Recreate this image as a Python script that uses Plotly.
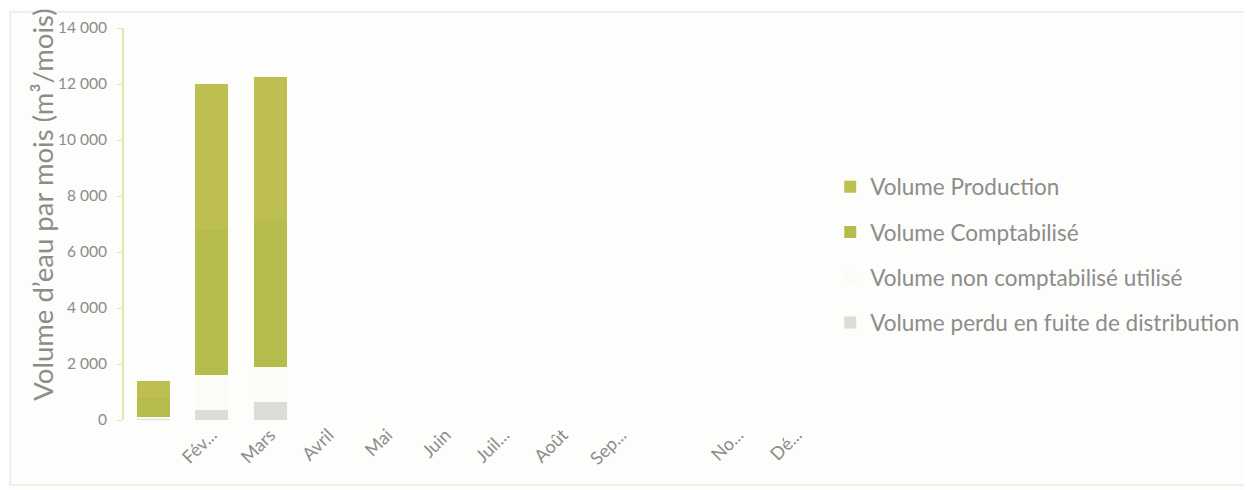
import plotly.graph_objects as go

months = ["Janvier", "Février", "Mars", "Avril", "Mai", "Juin", "Juillet",
          "Août", "Septembre", "Octobre", "Novembre", "Décembre"]
tick_labels = ["", "Fév...", "Mars", "Avril", "Mai", "Juin", "Juil...",
               "Août", "Sep...", "", "No...", "Dé..."]

# stacked from bottom to top
vol_perdu = [60, 350, 650, 0, 0, 0, 0, 0, 0, 0, 0, 0]
vol_non_compt = [40, 1250, 1250, 0, 0, 0, 0, 0, 0, 0, 0, 0]
vol_compt = [700, 5200, 5200, 0, 0, 0, 0, 0, 0, 0, 0, 0]
vol_production = [600, 5200, 5150, 0, 0, 0, 0, 0, 0, 0, 0, 0]

series = [
    ("Volume perdu en fuite de distribution", vol_perdu, "#dcdcd8", 4),
    ("Volume non comptabilisé utilisé", vol_non_compt, "#fbfbf8", 3),
    ("Volume Comptabilisé", vol_compt, "#b6bc4c", 2),
    ("Volume Production", vol_production, "#bdc050", 1),
]

grey = "#8c8c8c"
fig = go.Figure()
for name, vals, col, rank in series:
    fig.add_trace(go.Bar(
        x=months, y=vals, name=name, legendgroup=name, legendrank=rank,
        marker=dict(color=col, line=dict(width=0)),
    ))

fig.update_layout(
    width=1252, height=490,
    barmode="stack", bargap=0.43,
    paper_bgcolor="#fdfdfb", plot_bgcolor="#fdfdfb",
    separators=", ",
    font=dict(family="Lato, Open Sans, sans-serif", color=grey, size=15),
    margin=dict(l=116, r=434, t=20, b=78, autoexpand=False),
    showlegend=True,
    legend=dict(
        x=1.006, xanchor="left", y=0.422, yanchor="middle",
        traceorder="grouped", tracegroupgap=13,
        font=dict(size=22.5, color=grey), itemwidth=30,
        bgcolor="rgba(0,0,0,0)",
    ),
    xaxis=dict(
        categoryorder="array", categoryarray=months,
        tickmode="array", tickvals=months, ticktext=tick_labels,
        tickangle=-45, showline=False, ticks="", showgrid=False,
        tickfont=dict(size=18, color=grey), automargin=False,
    ),
    yaxis=dict(
        range=[0, 14000], tickvals=[0, 2000, 4000, 6000, 8000, 10000, 12000, 14000],
        tickformat=",d", showline=True, linecolor="#e4e6a6", linewidth=2,
        ticks="outside", ticklen=5, tickcolor="#e4e6a6", showgrid=False,
        zeroline=False, tickfont=dict(size=15.5, color=grey),
        ticklabelstandoff=7, automargin=False,
    ),
)

fig.add_annotation(
    text="Volume d’eau par mois (m³/mois)", textangle=-90,
    xref="paper", yref="paper", x=-0.116, y=0.548,
    xanchor="center", yanchor="middle", showarrow=False,
    font=dict(size=27.5, color=grey),
)

fig.add_shape(
    type="rect", xref="paper", yref="paper",
    x0=-0.162, x1=1.597, y0=-0.166, y1=1.041,
    line=dict(color="#e2e2dc", width=1), fillcolor="rgba(0,0,0,0)", layer="below",
)

fig.write_html("out.html")
